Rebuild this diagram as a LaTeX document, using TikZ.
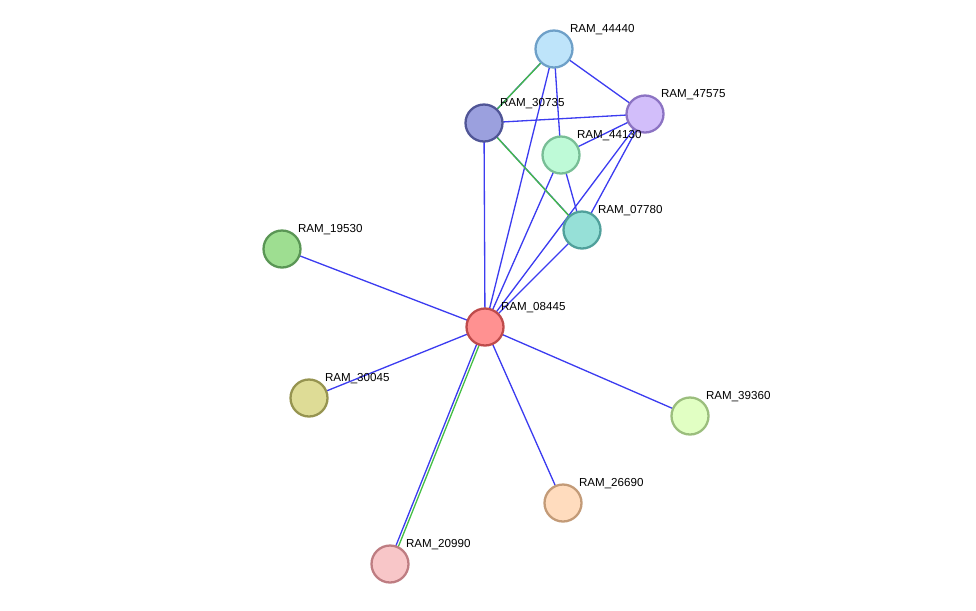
\documentclass[tikz,border=0pt]{standalone}
\usepackage{fontspec}
\setmainfont{Liberation Sans}
\usetikzlibrary{backgrounds}
\definecolor{eblue}{RGB}{60,60,240}
\definecolor{egreen}{RGB}{70,190,70}

\begin{document}
\begin{tikzpicture}[x=0.02cm,y=-0.02cm]
	\tikzset{prot/.style={circle,minimum size=0.74cm,inner sep=0pt,line width=1.3pt}}
	\tikzset{lbl/.style={anchor=south west,inner sep=0pt,font=\fontsize{6.6}{7}\selectfont,xshift=1pt}}
	\tikzset{blu/.style={eblue,line width=0.75pt}}
	\tikzset{grn/.style={egreen,line width=0.75pt}}
	\useasboundingbox (0,0) rectangle (976,610);

	    \node[prot,fill={rgb,255:red,190;green,228;blue,250},draw={rgb,255:red,110;green,160;blue,200}] (n44440) at (554,49) {};
	    \node[prot,fill={rgb,255:red,155;green,160;blue,222},draw={rgb,255:red,80;green,85;blue,150}] (n30735) at (484,123) {};
	    \node[prot,fill={rgb,255:red,210;green,190;blue,250},draw={rgb,255:red,140;green,115;blue,195}] (n47575) at (645,114) {};
	    \node[prot,fill={rgb,255:red,190;green,250;blue,215},draw={rgb,255:red,120;green,190;blue,150}] (n44130) at (561,155) {};
	    \node[prot,fill={rgb,255:red,150;green,224;blue,215},draw={rgb,255:red,80;green,160;blue,155}] (n07780) at (582,230) {};
	    \node[prot,fill={rgb,255:red,158;green,222;blue,145},draw={rgb,255:red,90;green,150;blue,85}] (n19530) at (282,249) {};
	    \node[prot,fill={rgb,255:red,255;green,145;blue,145},draw={rgb,255:red,190;green,75;blue,75}] (n08445) at (485,327) {};
	    \node[prot,fill={rgb,255:red,222;green,220;blue,150},draw={rgb,255:red,150;green,148;blue,80}] (n30045) at (309,398) {};
	    \node[prot,fill={rgb,255:red,225;green,255;blue,195},draw={rgb,255:red,155;green,190;blue,125}] (n39360) at (690,416) {};
	    \node[prot,fill={rgb,255:red,255;green,220;blue,190},draw={rgb,255:red,195;green,155;blue,120}] (n26690) at (563,503) {};
	    \node[prot,fill={rgb,255:red,248;green,198;blue,200},draw={rgb,255:red,190;green,125;blue,130}] (n20990) at (390,564) {};

	    % labels
	    \node[lbl] (l44440) at (n44440.north east) {RAM\_44440};
	    \node[lbl] (l30735) at (n30735.north east) {RAM\_30735};
	    \node[lbl] (l47575) at (n47575.north east) {RAM\_47575};
	    \node[lbl] (l44130) at (n44130.north east) {RAM\_44130};
	    \node[lbl] (l07780) at (n07780.north east) {RAM\_07780};
	    \node[lbl] (l19530) at (n19530.north east) {RAM\_19530};
	    \node[lbl] (l08445) at (n08445.north east) {RAM\_08445};
	    \node[lbl] (l30045) at (n30045.north east) {RAM\_30045};
	    \node[lbl] (l39360) at (n39360.north east) {RAM\_39360};
	    \node[lbl] (l26690) at (n26690.north east) {RAM\_26690};
	    \node[lbl] (l20990) at (n20990.north east) {RAM\_20990};

		\begin{scope}[on background layer]
		\foreach \a/\b in {44440/47575,44440/44130,44440/08445,30735/47575,30735/08445,
			47575/44130,47575/07780,47575/08445,44130/07780,44130/08445,07780/08445,
			19530/08445,30045/08445,39360/08445,26690/08445}
			\draw[blu] (n\a.center) -- (n\b.center);
		% double evidence
		\draw[blu,transform canvas={shift={(-0.6pt,-0.6pt)}}] (n44440.center) -- (n30735.center);
		\draw[grn,transform canvas={shift={(0.6pt,0.6pt)}}] (n44440.center) -- (n30735.center);
		\draw[blu,transform canvas={shift={(0.6pt,-0.6pt)}}] (n30735.center) -- (n07780.center);
		\draw[grn,transform canvas={shift={(-0.6pt,0.6pt)}}] (n30735.center) -- (n07780.center);
		\draw[blu,transform canvas={shift={(-0.8pt,0pt)}}] (n20990.center) -- (n08445.center);
		\draw[grn,transform canvas={shift={(0.8pt,0pt)}}] (n20990.center) -- (n08445.center);
		\end{scope}
\end{tikzpicture}
\end{document}
